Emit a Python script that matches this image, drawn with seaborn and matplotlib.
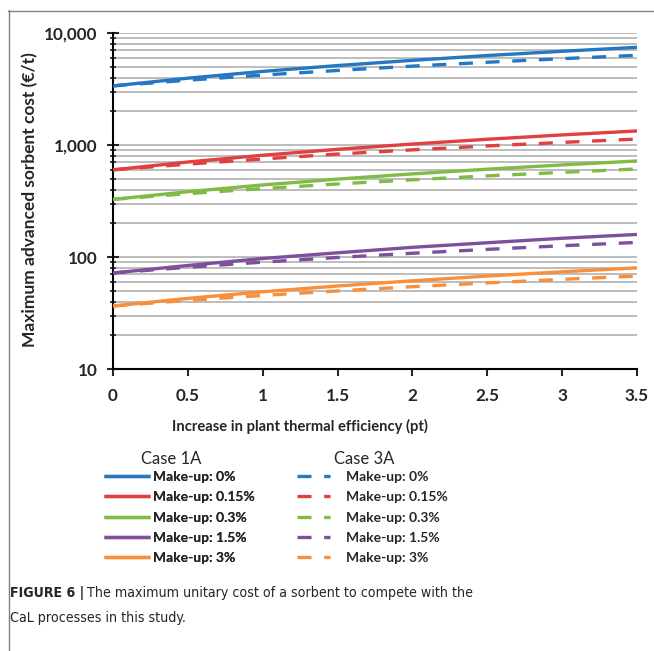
import numpy as np
import pandas as pd
import matplotlib
matplotlib.use("Agg")
import matplotlib.pyplot as plt
from matplotlib import font_manager as fm
from matplotlib.lines import Line2D
from matplotlib.ticker import FuncFormatter, LogLocator, NullFormatter
import seaborn as sns

# Increase in plant thermal efficiency (pt)
efficiency_gain = [0.0, 0.5, 1.0, 1.5, 2.0, 2.5, 3.0, 3.5]

makeup_levels = ["Make-up: 0%", "Make-up: 0.15%", "Make-up: 0.3%",
                 "Make-up: 1.5%", "Make-up: 3%"]
cases = ["Case 1A", "Case 3A"]

# Maximum advanced sorbent cost (EUR/t), Case 1A
case1a_0 = [3370, 3950, 4540, 5120, 5700, 6290, 6870, 7450]
case1a_015 = [600, 705, 810, 915, 1020, 1125, 1230, 1335]
case1a_03 = [327, 383, 440, 496, 552, 608, 664, 720]
case1a_15 = [72, 84, 97, 109, 122, 134, 147, 159]
case1a_3 = [36.5, 42.7, 48.9, 55.1, 61.3, 67.6, 73.8, 80.0]

# Maximum advanced sorbent cost (EUR/t), Case 3A
case3a_0 = [3370, 3790, 4210, 4630, 5060, 5480, 5900, 6320]
case3a_015 = [600, 675, 750, 830, 905, 980, 1055, 1130]
case3a_03 = [327, 368, 408, 449, 489, 530, 570, 611]
case3a_15 = [72, 81, 90, 99, 108, 117, 126, 135]
case3a_3 = [36.5, 41.0, 45.4, 49.8, 54.3, 58.7, 63.2, 67.6]

series = {
    "Case 1A": [case1a_0, case1a_015, case1a_03, case1a_15, case1a_3],
    "Case 3A": [case3a_0, case3a_015, case3a_03, case3a_15, case3a_3],
}

colors = ["#2577c2", "#e0403f", "#7fbb45", "#7d4f9d", "#f98f3a"]
palette = dict(zip(makeup_levels, colors))

rows = []
for case in cases:
    for level, vals in zip(makeup_levels, series[case]):
        for x, v in zip(efficiency_gain, vals):
            rows.append({"gain": x, "cost": v, "makeup": level, "case": case})
df = pd.DataFrame(rows)

sns.set_style("white")
plt.rcParams["font.family"] = ["Lato", "DejaVu Sans"]

W, H = 654, 651
fig = plt.figure(figsize=(W / 100, H / 100), dpi=100)
ax = fig.add_axes([113 / W, 1 - 369 / H, (637 - 113) / W, (369 - 33) / H])

dash_pattern = (4.2, 3.8)
sns.lineplot(data=df, x="gain", y="cost", hue="makeup", style="case",
             hue_order=makeup_levels, style_order=cases, palette=palette,
             dashes={"Case 1A": "", "Case 3A": dash_pattern},
             linewidth=2.4, legend=False, ax=ax, zorder=3)
for ln in ax.lines:
    ln.set_solid_capstyle("butt")
    ln.set_dash_capstyle("butt")

ax.set_yscale("log")
ax.set_ylim(10, 10000)
ax.set_xlim(0, 3.5)
ax.set_xticks(efficiency_gain)
ax.set_xticklabels([f"{v:g}" for v in efficiency_gain])
ax.yaxis.set_major_locator(LogLocator(base=10, numticks=10))
ax.yaxis.set_minor_locator(LogLocator(base=10, subs=np.arange(2, 10), numticks=10))
ax.yaxis.set_major_formatter(FuncFormatter(lambda v, p: f"{v:,.0f}"))
ax.yaxis.set_minor_formatter(NullFormatter())

ax.grid(True, which="both", axis="y", color="#bdbdbd", linewidth=1.4)
ax.grid(False, axis="x")
for side in ["top", "right"]:
    ax.spines[side].set_visible(False)
for side in ["left", "bottom"]:
    ax.spines[side].set_color("black")
    ax.spines[side].set_linewidth(1.5)

ax.tick_params(axis="y", which="major", direction="inout", length=8, width=1.5,
               left=True, labelsize=12.3, pad=7)
ax.tick_params(axis="y", which="minor", direction="inout", length=4, width=1.2,
               left=True)
ax.tick_params(axis="x", which="major", direction="out", length=5, width=1.5,
               bottom=True, labelsize=12.3, pad=9)
for lab in ax.get_xticklabels() + ax.get_yticklabels():
    lab.set_fontweight("bold")

ax.set_xlabel("")
ax.set_ylabel("")
fig.text(30 / W, 1 - 200 / H, "Maximum advanced sorbent cost (\u20ac/t)",
         rotation=90, ha="center", va="center", fontsize=12.5, fontweight="bold")
fig.text(300 / W, 1 - 426 / H, "Increase in plant thermal efficiency (pt)",
         ha="center", va="center", fontsize=10.6, fontweight="bold")

# Legends: one column per case, built from the plotted lines
solid_handles = [ln for ln in ax.lines if ln.get_linestyle() == "-"]
dashed_handles = [ln for ln in ax.lines if ln.get_linestyle() != "-"]

leg_kw = dict(loc="upper left", frameon=False, labelspacing=0.6, borderpad=0,
              borderaxespad=0, prop={"size": 10, "weight": "bold"})
leg1 = fig.legend(handles=solid_handles, labels=makeup_levels,
                  bbox_to_anchor=(104 / W, 1 - 471 / H), handlelength=3.3,
                  handletextpad=0.2, **leg_kw)
leg2 = fig.legend(handles=dashed_handles, labels=makeup_levels,
                  bbox_to_anchor=(297 / W, 1 - 471 / H), handlelength=2.4,
                  handletextpad=1.1, **leg_kw)
fig.add_artist(leg1)
fig.text(171 / W, 1 - 459 / H, cases[0], ha="center", va="center", fontsize=12)
fig.text(364 / W, 1 - 459 / H, cases[1], ha="center", va="center", fontsize=12)

# Frame lines of the figure panel
fig.add_artist(Line2D([8.5 / W, 8.5 / W], [0, 1 - 10 / H], color="#7f7f7f", lw=1.0))
fig.add_artist(Line2D([8 / W, 1], [1 - 10.5 / H, 1 - 10.5 / H], color="#7f7f7f", lw=1.0))

# Caption, in a narrow sans face where one is available
font_names = {f.name for f in fm.fontManager.ttflist}
narrow_dejavu = any(f.name == "DejaVu Sans" and "condensed" in str(f.stretch)
                    for f in fm.fontManager.ttflist)
if "Liberation Sans Narrow" in font_names:
    cap_kw = dict(family="Liberation Sans Narrow", fontsize=12.5)
elif narrow_dejavu:
    cap_kw = dict(family="DejaVu Sans", fontstretch="condensed", fontsize=10.2)
else:
    cap_kw = dict(family="Liberation Sans", fontsize=10.6)

t_bold = fig.text(10 / W, 1 - 593 / H, "FIGURE 6 |", ha="left", va="center",
                  fontweight="bold", **cap_kw)
fig.canvas.draw()
bb = t_bold.get_window_extent(renderer=fig.canvas.get_renderer())
fig.text((bb.x1 + 3) / W, 1 - 593 / H,
         "The maximum unitary cost of a sorbent to compete with the",
         ha="left", va="center", **cap_kw)
fig.text(10 / W, 1 - 618 / H, "CaL processes in this study.", ha="left",
         va="center", **cap_kw)

fig.savefig("out.png", dpi=100)
